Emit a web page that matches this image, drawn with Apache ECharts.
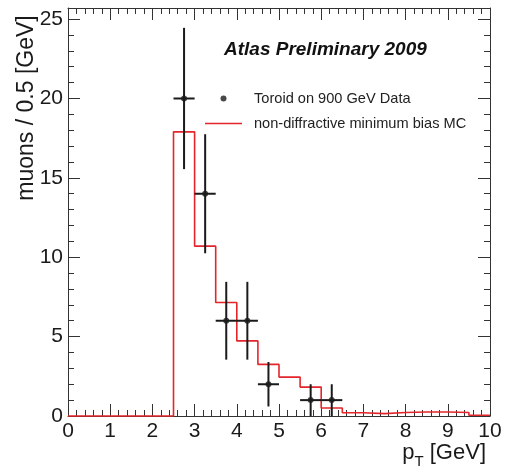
<!DOCTYPE html>
<html>
<head>
<meta charset="utf-8">
<script src="https://cdn.jsdelivr.net/npm/echarts@6/dist/echarts.min.js"></script>
<style>
  html, body { margin: 0; padding: 0; background: #ffffff; }
  #chart { width: 506px; height: 472px; }
</style>
</head>
<body>
<div id="chart"></div>
<script>
// Measured muon pT spectrum (0.5 GeV bins)
const dataCenters = [2.75, 3.25, 3.75, 4.25, 4.75, 5.75, 6.25];
const dataCounts  = [20, 14, 6, 6, 2, 1, 1];
const dataErrors  = [4.45, 3.75, 2.45, 2.45, 1.4, 1.0, 1.0];
const binHalfWidth = 0.25;

// Monte Carlo prediction, lower bin edges and contents
const mcEdges  = [0, 0.5, 1, 1.5, 2, 2.5, 3, 3.5, 4, 4.5, 5, 5.5, 6, 6.5, 7, 7.5, 8, 8.5, 9, 9.5, 10];
const mcValues = [0, 0, 0, 0, 0, 17.9, 10.7, 7.15, 4.73, 3.25, 2.45, 1.82, 0.5, 0.2, 0.15, 0.22, 0.25, 0.25, 0.22, 0.05, 0.05];

const xTicks = [0, 1, 2, 3, 4, 5, 6, 7, 8, 9, 10];
const yTicks = [0, 5, 10, 15, 20, 25];

const dataName = 'Toroid on 900 GeV Data';
const mcName = 'non-diffractive minimum bias MC';
const titleText = 'Atlas Preliminary 2009';
const yTitle = 'muons / 0.5 [GeV]';

const FONT = '"Liberation Sans", Arial, Helvetica, sans-serif';
const FRAME = '#333333';
const RED = '#e3262b';
const INK = '#1a1a1a';

const X_MIN = xTicks[0], X_MAX = xTicks[xTicks.length - 1];
const Y_MIN = 0, Y_MAX = 25.7;

const chart = echarts.init(document.getElementById('chart'), null, { renderer: 'canvas' });

function xAxisDef(pos, withLabels) {
  return {
    type: 'value', position: pos, min: X_MIN, max: X_MAX, interval: 1,
    axisLine: { show: true, onZero: false, lineStyle: { color: FRAME, width: 1 } },
    axisTick: { show: true, inside: true, length: 12, lineStyle: { color: FRAME, width: 1 } },
    minorTick: { show: true, splitNumber: 5, length: 6, lineStyle: { color: FRAME, width: 1 } },
    splitLine: { show: false }, minorSplitLine: { show: false },
    axisLabel: {
      show: withLabels, fontSize: 21, fontFamily: FONT, color: INK, margin: 5,
      formatter: v => (xTicks.indexOf(v) >= 0 ? String(v) : '')
    }
  };
}

// major axes carry the long ticks, minor axes the short ones (every unit)
function yAxisDef(pos, major, withLabels) {
  return {
    type: 'value', position: pos, min: Y_MIN, max: Y_MAX, interval: major ? 5 : 1,
    axisLine: { show: major, onZero: false, lineStyle: { color: FRAME, width: 1 } },
    axisTick: { show: true, inside: true, length: major ? 12 : 6, lineStyle: { color: FRAME, width: 1 } },
    splitLine: { show: false },
    axisLabel: {
      show: withLabels, fontSize: 21, fontFamily: FONT, color: INK, margin: 5,
      showMaxLabel: false,
      formatter: v => (yTicks.indexOf(v) >= 0 ? String(v) : '')
    }
  };
}

const mcSeriesData = mcEdges.map((x, i) => [x, mcValues[i]]);
const pointData = dataCenters.map((x, i) => [x, dataCounts[i]]);
const errorData = dataCenters.map((x, i) => [x, dataCounts[i], binHalfWidth, dataErrors[i]]);

chart.setOption({
  animation: false,
  backgroundColor: '#ffffff',
  grid: { left: 68, right: 16, top: 8, bottom: 56, containLabel: false, outerBoundsMode: 'none' },
  title: {
    text: titleText, left: 224, top: 40, padding: 0,
    textStyle: { fontSize: 19, fontWeight: 'bold', fontStyle: 'italic', fontFamily: FONT, color: '#111111' }
  },
  legend: {
    orient: 'vertical', left: 205, top: 91, padding: 0, itemGap: 10,
    itemWidth: 37, itemHeight: 6, symbolKeepAspect: true,
    textStyle: { fontSize: 14.6, fontFamily: FONT, color: '#222222', padding: [0, 0, 0, 7] },
    data: [
      { name: dataName, icon: 'circle' },
      { name: mcName, icon: 'path://M0,0H37V1.6H0Z' }
    ]
  },
  graphic: [
    {
      type: 'text', x: 27, y: 108, rotation: Math.PI / 2,
      style: {
        text: yTitle, font: '23px ' + FONT, fill: INK,
        textAlign: 'center', textVerticalAlign: 'middle'
      }
    },
    {
      type: 'text', x: 486, y: 442,
      style: {
        text: '{a|p}{s|T}{a| [GeV]}', textAlign: 'right', textVerticalAlign: 'top',
        rich: {
          a: { fontSize: 22, fontFamily: FONT, fill: INK, verticalAlign: 'top', lineHeight: 24 },
          s: { fontSize: 15, fontFamily: FONT, fill: INK, verticalAlign: 'top', padding: [12, 0, 0, 0] }
        }
      }
    }
  ],
  xAxis: [xAxisDef('bottom', true), xAxisDef('top', false)],
  yAxis: [
    yAxisDef('left', true, true),
    yAxisDef('left', false, false),
    yAxisDef('right', true, false),
    yAxisDef('right', false, false)
  ],
  series: [
    {
      name: mcName, type: 'line', step: 'end', data: mcSeriesData,
      xAxisIndex: 0, yAxisIndex: 0, symbol: 'none', clip: false, z: 3,
      itemStyle: { color: RED }, lineStyle: { color: RED, width: 1.6 }
    },
    {
      type: 'custom', xAxisIndex: 0, yAxisIndex: 0, z: 4,
      data: errorData, encode: { x: 0, y: 1 },
      renderItem: function (params, api) {
        const x = api.value(0), y = api.value(1), ex = api.value(2), ey = api.value(3);
        const l = api.coord([x - ex, y]), r = api.coord([x + ex, y]);
        const b = api.coord([x, Math.max(y - ey, 0)]), t = api.coord([x, y + ey]);
        const st = { stroke: INK, lineWidth: 2 };
        return {
          type: 'group',
          children: [
            { type: 'line', shape: { x1: l[0], y1: l[1], x2: r[0], y2: r[1] }, style: st },
            { type: 'line', shape: { x1: b[0], y1: b[1], x2: t[0], y2: t[1] }, style: st }
          ]
        };
      }
    },
    {
      name: dataName, type: 'scatter', data: pointData, xAxisIndex: 0, yAxisIndex: 0,
      symbol: 'circle', symbolSize: 6, z: 5, itemStyle: { color: INK }
    }
  ]
});
</script>
</body>
</html>
